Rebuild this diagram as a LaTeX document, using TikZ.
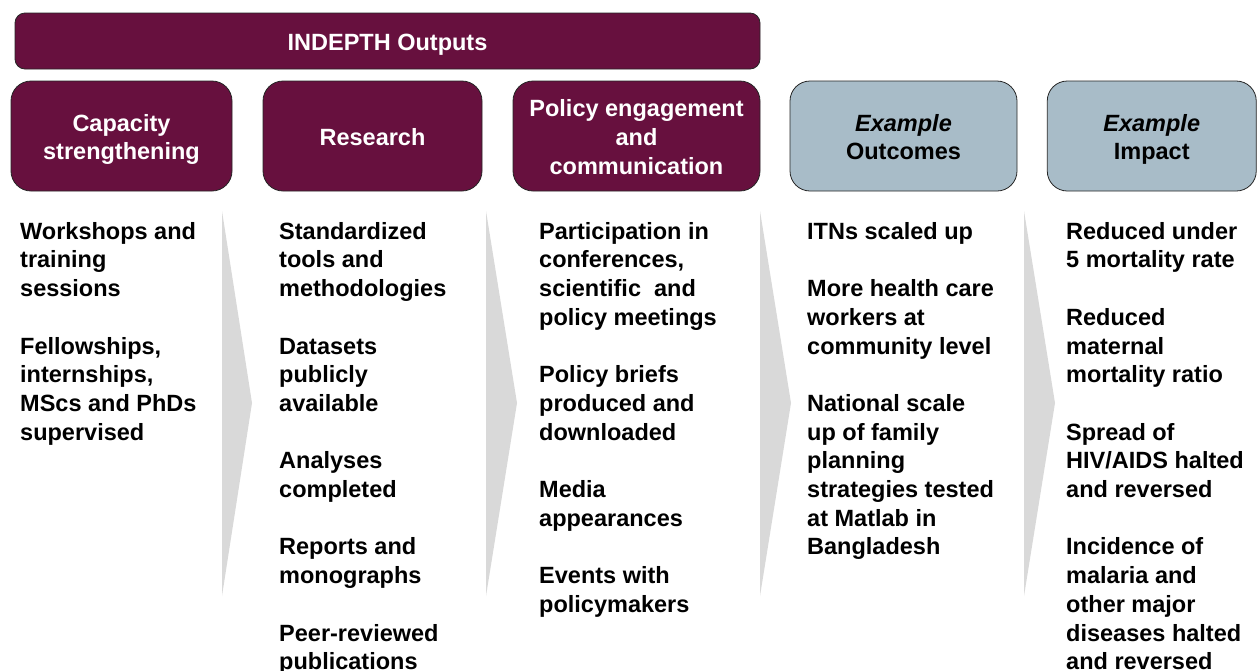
\documentclass[tikz,border=0pt]{standalone}
\usepackage{fontspec}
\setmainfont{Liberation Sans}
\definecolor{maroon}{RGB}{103,16,62}
\definecolor{steel}{RGB}{168,188,200}
\definecolor{chevgrey}{RGB}{217,217,217}
\newcommand{\bodysize}{\fontsize{23.5pt}{28.7pt}\selectfont\bfseries}
\newcommand{\fl}{\rule{0pt}{18.8pt}}
\newcommand{\tst}{\rule{0pt}{24pt}}
\newcommand{\bst}{\rule[-5pt]{0pt}{5pt}}
\begin{document}
\begin{tikzpicture}[x=1pt,y=-1pt,
  outbox/.style={draw=black!85, line width=0.8pt, fill=maroon, text=white,
    rounded corners=20pt, align=center, font=\bodysize, inner sep=0pt, minimum height=110pt},
  exbox/.style={outbox, fill=steel, text=black},
  col/.style={anchor=north west, inner sep=0pt, align=left, font=\bodysize},
  chevron/.style={fill=chevgrey}]
\useasboundingbox (0,0) rectangle (1257,670);
% chevrons
\fill[chevron] (222,211) -- (252,403) -- (222,596) -- cycle;
\fill[chevron] (486,211) -- (517,403) -- (486,596) -- cycle;
\fill[chevron] (760,211) -- (791,403) -- (760,596) -- cycle;
\fill[chevron] (1024,211) -- (1055,403) -- (1024,596) -- cycle;
% header
\node[outbox, rounded corners=10pt, minimum width=745pt, minimum height=56pt] (hdr) at (387.5,41) {\tst INDEPTH Outputs\bst};
% title boxes
\node[outbox, minimum width=221pt] (b1) at (121.5,136) {\tst Capacity\\strengthening\bst};
\node[outbox, minimum width=219pt] (b2) at (372.5,136) {\tst Research\bst};
\node[outbox, minimum width=247pt] (b3) at (636.5,136) {\tst Policy engagement\\and\\communication\bst};
\node[exbox, minimum width=227pt] (b4) at (903.5,136) {\tst\textit{Example}\\Outcomes\bst};
\node[exbox, minimum width=209pt] (b5) at (1151.75,136) {\tst\textit{Example}\\Impact\bst};
% columns
\node[col] (c1) at (20,220.2) {\fl Workshops and\\training\\sessions\\[28.7pt]Fellowships,\\internships,\\MScs and PhDs\\supervised};
\node[col] (c2) at (279,220.2) {\fl Standardized\\tools and\\methodologies\\[28.7pt]Datasets\\publicly\\available\\[28.7pt]Analyses\\completed\\[28.7pt]Reports and\\monographs\\[28.7pt]Peer-reviewed\\publications};
\node[col] (c3) at (539,220.2) {\fl Participation in\\conferences,\\scientific~ and\\policy meetings\\[28.7pt]Policy briefs\\produced and\\downloaded\\[28.7pt]Media\\appearances\\[28.7pt]Events with\\policymakers};
\node[col] (c4) at (807,220.2) {\fl ITNs scaled up\\[28.7pt]More health care\\workers at\\community level\\[28.7pt]National scale\\up of family\\planning\\strategies tested\\at Matlab in\\Bangladesh};
\node[col] (c5) at (1066,220.2) {\fl Reduced under\\5 mortality rate\\[28.7pt]Reduced\\maternal\\mortality ratio\\[28.7pt]Spread of\\HIV/AIDS halted\\and reversed\\[28.7pt]Incidence of\\malaria and\\other major\\diseases halted\\and reversed};
\end{tikzpicture}
\end{document}
